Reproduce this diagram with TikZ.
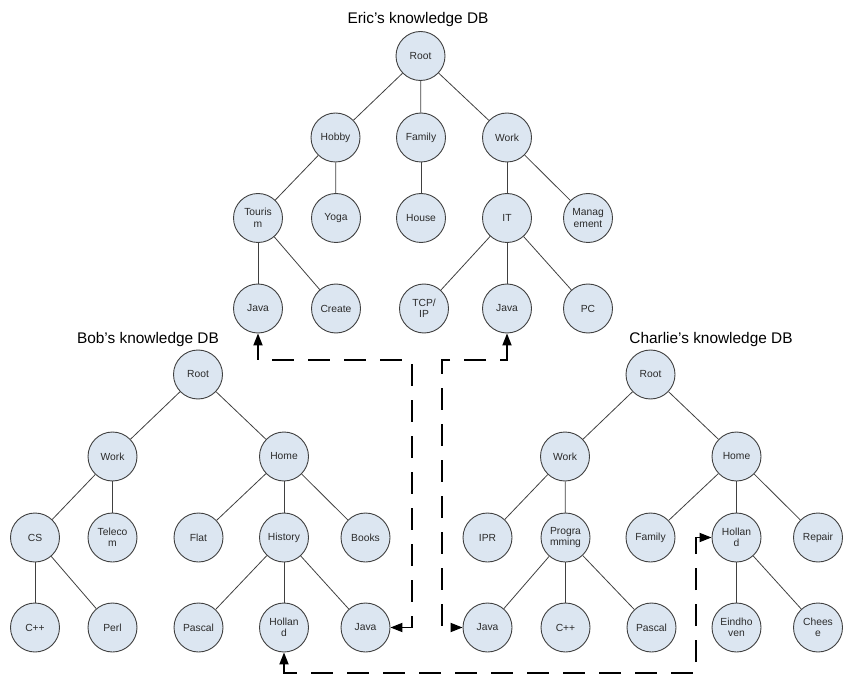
\documentclass[tikz,border=0pt]{standalone}
\usepackage{fontspec}
\setmainfont{Liberation Sans}
\usetikzlibrary{arrows.meta}
\definecolor{nodefill}{HTML}{DCE6F1}
\definecolor{edgegray}{HTML}{404040}
\definecolor{txtgray}{HTML}{2B2B2B}
\begin{document}
\begin{tikzpicture}[x=1pt,y=-1pt,
  kn/.style={circle, draw=edgegray, line width=0.9pt, fill=nodefill,
    minimum size=49pt, inner sep=0pt, align=center, text=txtgray,
    font=\fontsize{10.3}{11.5}\selectfont},
  edge/.style={draw=edgegray, line width=0.8pt},
  link/.style={draw=black, line width=1.8pt, dash pattern=on 22pt off 14pt,
    {Triangle[length=12pt,width=9pt]}-{Triangle[length=12pt,width=9pt]}},
  dbtitle/.style={font=\fontsize{15.4}{18}\selectfont, anchor=base, inner sep=0pt}]
\useasboundingbox (0,0) rectangle (843,676);

% ---------- Eric ----------
\node[dbtitle] (etitle) at (418,24) {Eric’s knowledge DB};
\node[kn] (eroot)   at (420.5,56)  {Root};
\node[kn] (ehobby)  at (335.5,137.5) {Hobby};
\node[kn] (efamily) at (421,137.5) {Family};
\node[kn] (ework)   at (507,137.5) {Work};
\node[kn] (etour)   at (258,218) {Touris\\m};
\node[kn] (eyoga)   at (336,218) {Yoga};
\node[kn] (ehouse)  at (421,218) {House};
\node[kn] (eit)     at (507,218) {IT};
\node[kn] (emgmt)   at (588,218) {Manag\\ement};
\node[kn] (ejava)   at (258,308.5) {Java};
\node[kn] (ecreate) at (336,308.5) {Create};
\node[kn] (etcp)    at (424,308.5) {TCP/\\IP};
\node[kn] (ejavab)  at (507,308.5) {Java};
\node[kn] (epc)     at (588,308.5) {PC};

\draw[edge] (eroot) -- (ehobby);
\draw[edge] (eroot) -- (efamily);
\draw[edge] (eroot) -- (ework);
\draw[edge] (ehobby) -- (etour);
\draw[edge] (ehobby) -- (eyoga);
\draw[edge] (efamily) -- (ehouse);
\draw[edge] (ework) -- (eit);
\draw[edge] (ework) -- (emgmt);
\draw[edge] (etour) -- (ejava);
\draw[edge] (etour) -- (ecreate);
\draw[edge] (eit) -- (etcp);
\draw[edge] (eit) -- (ejavab);
\draw[edge] (eit) -- (epc);

% ---------- Bob ----------
\node[dbtitle] (btitle) at (148,343) {Bob’s knowledge DB};
\node[kn] (broot)   at (198,374.5) {Root};
\node[kn] (bwork)   at (112.5,456.5) {Work};
\node[kn] (bhome)   at (284,456.5) {Home};
\node[kn] (bcs)     at (35,537.5) {CS};
\node[kn] (btel)    at (112.5,537.5) {Teleco\\m};
\node[kn] (bflat)   at (198.5,537.5) {Flat};
\node[kn] (bhist)   at (284,537.5) {History};
\node[kn] (bbooks)  at (365.5,537.5) {Books};
\node[kn] (bcpp)    at (35,627.5) {C++};
\node[kn] (bperl)   at (112.5,627.5) {Perl};
\node[kn] (bpascal) at (198.5,627.5) {Pascal};
\node[kn] (bholl)   at (284,627.5) {Hollan\\d};
\node[kn] (bjava)   at (365.5,627.5) {Java};

\draw[edge] (broot) -- (bwork);
\draw[edge] (broot) -- (bhome);
\draw[edge] (bwork) -- (bcs);
\draw[edge] (bwork) -- (btel);
\draw[edge] (bhome) -- (bflat);
\draw[edge] (bhome) -- (bhist);
\draw[edge] (bhome) -- (bbooks);
\draw[edge] (bcs) -- (bcpp);
\draw[edge] (bcs) -- (bperl);
\draw[edge] (bhist) -- (bpascal);
\draw[edge] (bhist) -- (bholl);
\draw[edge] (bhist) -- (bjava);

% ---------- Charlie ----------
\node[dbtitle] (ctitle) at (711,343) {Charlie’s knowledge DB};
\node[kn] (croot)  at (650.5,374.5) {Root};
\node[kn] (cwork)  at (565,456.5) {Work};
\node[kn] (chome)  at (736.5,456.5) {Home};
\node[kn] (cipr)   at (487.5,537.5) {IPR};
\node[kn] (cprog)  at (565.5,537.5) {Progra\\mming};
\node[kn] (cfam)   at (650.5,537.5) {Family};
\node[kn] (choll)  at (736.5,537.5) {Hollan\\d};
\node[kn] (crep)   at (818,537.5) {Repair};
\node[kn] (cjava)  at (487.5,627.5) {Java};
\node[kn] (ccpp)   at (565.5,627.5) {C++};
\node[kn] (cpas)   at (651.5,627.5) {Pascal};
\node[kn] (cein)   at (736.5,627.5) {Eindho\\ven};
\node[kn] (cche)   at (818,627.5) {Chees\\e};

\draw[edge] (croot) -- (cwork);
\draw[edge] (croot) -- (chome);
\draw[edge] (cwork) -- (cipr);
\draw[edge] (cwork) -- (cprog);
\draw[edge] (chome) -- (cfam);
\draw[edge] (chome) -- (choll);
\draw[edge] (chome) -- (crep);
\draw[edge] (cprog) -- (cjava);
\draw[edge] (cprog) -- (ccpp);
\draw[edge] (cprog) -- (cpas);
\draw[edge] (choll) -- (cein);
\draw[edge] (choll) -- (cche);

% ---------- shared-knowledge links ----------
\coordinate (bend1) at (412,360);
\coordinate (bend2) at (442,360);
\coordinate (bend3) at (284,673);
\coordinate (bend4) at (696,673);
\draw[link] (bjava.east) -| (bend1) -| (ejava.south);
\draw[link] (ejavab.south) |- (bend2) |- (cjava.west);
\draw[link] (bholl.south) -- (bend3) -- (bend4) |- (choll.west);
\end{tikzpicture}
\end{document}
